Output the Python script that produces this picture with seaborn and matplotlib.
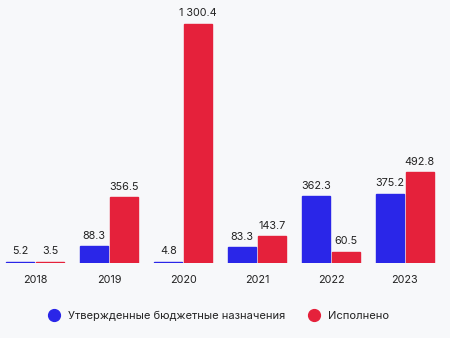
import matplotlib
matplotlib.use("Agg")
import matplotlib.pyplot as plt
import seaborn as sns
import pandas as pd
from matplotlib.lines import Line2D

years = ["2018", "2019", "2020", "2021", "2022", "2023"]
approved = [5.2, 88.3, 4.8, 83.3, 362.3, 375.2]
executed = [3.5, 356.5, 1300.4, 143.7, 60.5, 492.8]
series_names = ["Утвержденные бюджетные назначения", "Исполнено"]
colors = ["#2a26e8", "#e5213b"]

df = pd.DataFrame({
    "year": years * 2,
    "value": approved + executed,
    "series": [series_names[0]] * len(years) + [series_names[1]] * len(years),
})

bg = "#f7f8fa"
sns.set_theme(style="white")
plt.rcParams["font.family"] = ["Inter", "DejaVu Sans"]

fig = plt.figure(figsize=(4.5, 3.38), dpi=100, facecolor=bg)
ax = fig.add_axes([-0.004, 0.223, 0.986, 0.777])
ax.set_facecolor(bg)

sns.barplot(data=df, x="year", y="value", hue="series", palette=colors,
            saturation=1, width=0.8, gap=0.06, linewidth=0,
            legend=False, ax=ax)

for cont, c in zip(ax.containers, colors):
    for p in cont.patches:
        p.set_edgecolor(c)
        p.set_linewidth(1.0)

def fmt(v):
    s = f"{v:,.1f}"
    return s.replace(",", " ")

for cont in ax.containers:
    ax.bar_label(cont, labels=[fmt(v) for v in cont.datavalues], padding=4,
                 fontsize=7.8, color="#222222")

ax.set_ylim(0, 1431)
ax.set_xlim(-0.5, 5.5)
ax.set_xlabel("")
ax.set_ylabel("")
ax.set_yticks([])
ax.tick_params(axis="x", length=0, pad=9, labelsize=7.8, labelcolor="#222222")
for s in ax.spines.values():
    s.set_visible(False)

handles = [Line2D([0], [0], marker="o", linestyle="", markersize=8.5,
                  markerfacecolor=c, markeredgecolor=c) for c in colors]
fig.legend(handles, series_names, loc="center", bbox_to_anchor=(0.48, 0.065),
           ncol=2, frameon=False, fontsize=8.0, handletextpad=0.3,
           columnspacing=1.5, labelcolor="#222222")

fig.savefig("out.png", dpi=100, facecolor=bg)
